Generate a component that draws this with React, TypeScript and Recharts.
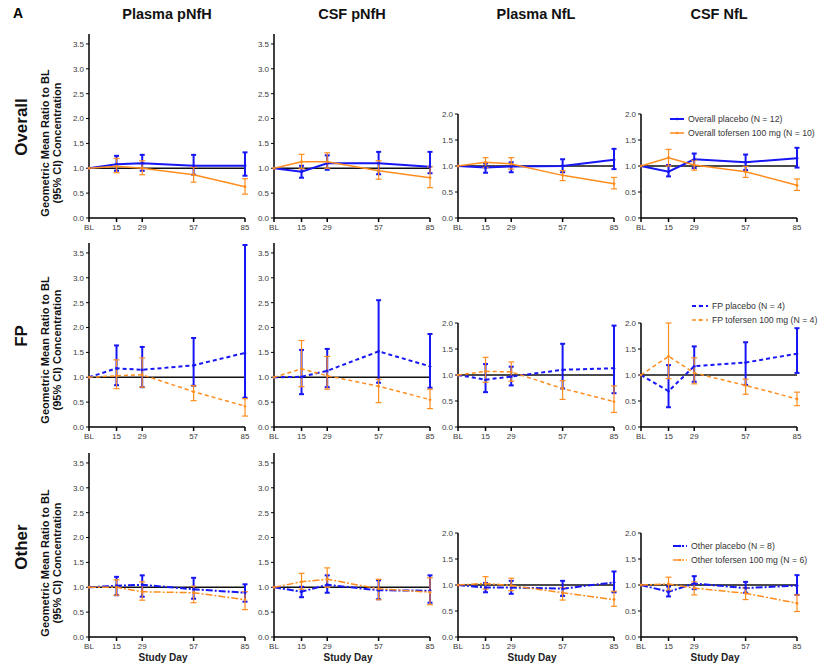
import React from 'react';
import { LineChart, Line, XAxis, YAxis, ReferenceLine, ErrorBar } from 'recharts';

const days = [0, 15, 29, 57, 85];
const groups = ['Overall', 'FP', 'Other'];
const markers = ['Plasma pNfH', 'CSF pNfH', 'Plasma NfL', 'CSF NfL'];

const legendPlacebo = ['Overall placebo (N = 12)', 'FP placebo (N = 4)', 'Other placebo (N = 8)'];
const legendTofersen = [
  'Overall tofersen 100 mg (N = 10)',
  'FP tofersen 100 mg (N = 4)',
  'Other tofersen 100 mg (N = 6)',
];

// rows: Plasma pNfH, CSF pNfH, Plasma NfL, CSF NfL ; columns: BL, 15, 29, 57, 85
const ovPlaMean = [[1, 1.08, 1.1, 1.05, 1.05], [1, 0.93, 1.1, 1.1, 1.03], [1, 0.97, 0.99, 1.0, 1.12], [1, 0.89, 1.13, 1.07, 1.15]];
const ovPlaLo = [[1, 0.95, 0.95, 0.87, 0.85], [1, 0.81, 0.97, 0.88, 0.9], [1, 0.87, 0.88, 0.88, 0.94], [1, 0.8, 0.96, 0.92, 0.97]];
const ovPlaHi = [[1, 1.25, 1.27, 1.27, 1.32], [1, 1.05, 1.26, 1.33, 1.33], [1, 1.05, 1.07, 1.13, 1.33], [1, 1.02, 1.24, 1.22, 1.35]];
const ovTofMean = [[1, 1.04, 1.0, 0.87, 0.63], [1, 1.13, 1.13, 0.95, 0.81], [1, 1.07, 1.04, 0.82, 0.66], [1, 1.16, 1.02, 0.89, 0.63]];
const ovTofLo = [[1, 0.91, 0.87, 0.72, 0.48], [1, 0.99, 1.0, 0.78, 0.61], [1, 0.97, 0.94, 0.72, 0.56], [1, 1.0, 0.92, 0.78, 0.53]];
const ovTofHi = [[1, 1.2, 1.15, 1.02, 0.79], [1, 1.28, 1.31, 1.15, 1.03], [1, 1.16, 1.16, 0.91, 0.78], [1, 1.32, 1.11, 0.99, 0.75]];

const fpPlaMean = [[1, 1.18, 1.15, 1.24, 1.49], [1, 1.01, 1.13, 1.52, 1.22], [1, 0.91, 0.97, 1.1, 1.13], [1, 0.69, 1.17, 1.24, 1.41]];
const fpPlaLo = [[1, 0.84, 0.8, 0.83, 0.59], [1, 0.66, 0.8, 0.89, 0.79], [1, 0.67, 0.8, 0.74, 0.65], [1, 0.38, 0.87, 0.81, 1.04]];
const fpPlaHi = [[1, 1.64, 1.61, 1.79, 3.66], [1, 1.55, 1.57, 2.55, 1.87], [1, 1.21, 1.16, 1.6, 1.95], [1, 1.19, 1.55, 1.63, 1.9]];
const fpTofMean = [[1, 1.03, 1.05, 0.71, 0.42], [1, 1.17, 1.03, 0.82, 0.55], [1, 1.07, 1.06, 0.74, 0.49], [1, 1.36, 1.04, 0.8, 0.54]];
const fpTofLo = [[1, 0.77, 0.8, 0.53, 0.22], [1, 0.81, 0.76, 0.49, 0.37], [1, 0.86, 0.88, 0.53, 0.28], [1, 0.93, 0.83, 0.63, 0.41]];
const fpTofHi = [[1, 1.35, 1.39, 0.83, 0.57], [1, 1.74, 1.42, 0.96, 0.76], [1, 1.34, 1.25, 0.89, 0.79], [1, 2.0, 1.33, 0.92, 0.67]];

const otPlaMean = [[1, 1.03, 1.05, 0.96, 0.89], [1, 0.91, 1.05, 0.94, 0.93], [1, 0.95, 0.95, 0.93, 1.05], [1, 0.87, 1.03, 0.94, 0.99]];
const otPlaLo = [[1, 0.84, 0.81, 0.77, 0.71], [1, 0.8, 0.89, 0.76, 0.69], [1, 0.86, 0.83, 0.79, 0.86], [1, 0.78, 0.92, 0.85, 0.81]];
const otPlaHi = [[1, 1.21, 1.24, 1.19, 1.06], [1, 1.01, 1.24, 1.14, 1.24], [1, 1.04, 1.08, 1.08, 1.26], [1, 0.97, 1.17, 1.06, 1.19]];
const otTofMean = [[1, 1.0, 0.91, 0.89, 0.75], [1, 1.11, 1.16, 0.97, 0.9], [1, 1.03, 0.99, 0.85, 0.72], [1, 1.02, 0.94, 0.84, 0.65]];
const otTofLo = [[1, 0.84, 0.74, 0.69, 0.55], [1, 0.96, 1.0, 0.75, 0.65], [1, 0.92, 0.89, 0.71, 0.59], [1, 0.9, 0.81, 0.72, 0.49]];
const otTofHi = [[1, 1.15, 1.11, 1.02, 0.91], [1, 1.28, 1.39, 1.16, 1.19], [1, 1.16, 1.13, 0.95, 0.88], [1, 1.15, 1.06, 0.94, 0.81]];

const pnfhTicks = [0, 0.5, 1, 1.5, 2, 2.5, 3, 3.5];
const nflTicks = [0, 0.5, 1, 1.5, 2];

const groupData = [
  { pm: ovPlaMean, pl: ovPlaLo, ph: ovPlaHi, tm: ovTofMean, tl: ovTofLo, th: ovTofHi },
  { pm: fpPlaMean, pl: fpPlaLo, ph: fpPlaHi, tm: fpTofMean, tl: fpTofLo, th: fpTofHi },
  { pm: otPlaMean, pl: otPlaLo, ph: otPlaHi, tm: otTofMean, tl: otTofLo, th: otTofHi },
];

const BLUE = '#1717f5';
const ORANGE = '#ff8d1e';
const FONT = '"Liberation Sans", Arial, sans-serif';

const colLeft = [89, 274, 458, 641];
const plotW = 156;
const rowBottom = [218, 427, 637];
const dashes = [undefined, '4 3', '7 2 2 2'];
const legendPos = [
  { x: 670, y: 119, len: 14 },
  { x: 692, y: 306, len: 16 },
  { x: 673, y: 546, len: 14 },
];

const err = (m: number, lo: number, hi: number) => (lo === hi ? null : [m - lo, hi - m]);

function buildRows(g: number, k: number) {
  const d = groupData[g];
  return days.map((day, i) => ({
    day,
    pb: d.pm[k][i],
    pbErr: err(d.pm[k][i], d.pl[k][i], d.ph[k][i]),
    tf: d.tm[k][i],
    tfErr: err(d.tm[k][i], d.tl[k][i], d.th[k][i]),
  }));
}

function Panel({ g, k }: { g: number; k: number }) {
  const isP = k < 2;
  const domMax = isP ? 3.7 : 2;
  const plotH = isP ? 184 : 104;
  const top = rowBottom[g] - plotH - 8;
  const left = colLeft[k] - 30;
  const data = buildRows(g, k);
  const tickStyle = { fontSize: 8, fill: '#3a3a3a', fontFamily: FONT };
  return (
    <div style={{ position: 'absolute', left, top }}>
      <LineChart width={plotW + 42} height={plotH + 30} data={data} margin={{ top: 8, right: 12, left: 2, bottom: 0 }}>
        <XAxis
          dataKey="day"
          type="number"
          domain={[0, 85]}
          ticks={days}
          tickFormatter={(v: number) => (v === 0 ? 'BL' : String(v))}
          height={22}
          tick={tickStyle}
          tickSize={4}
          axisLine={{ stroke: '#000', strokeWidth: 1.5 }}
          tickLine={{ stroke: '#000', strokeWidth: 1.5 }}
          interval={0}
        />
        <YAxis
          type="number"
          domain={[0, domMax]}
          ticks={isP ? pnfhTicks : nflTicks}
          tickFormatter={(v: number) => v.toFixed(1)}
          width={28}
          tick={tickStyle}
          tickSize={3}
          axisLine={{ stroke: '#000', strokeWidth: 1.5 }}
          tickLine={{ stroke: '#000' }}
          interval={0}
          allowDataOverflow
        />
        <ReferenceLine y={1} stroke="#111" strokeWidth={1.5} />
        <Line
          dataKey="pb"
          stroke={BLUE}
          strokeWidth={2}
          strokeDasharray={dashes[g]}
          dot={{ r: 1.2, fill: BLUE, stroke: BLUE, strokeWidth: 0.5 }}
          isAnimationActive={false}
        >
          <ErrorBar dataKey="pbErr" width={2.5} strokeWidth={2} stroke={BLUE} direction="y" isAnimationActive={false} />
        </Line>
        <Line
          dataKey="tf"
          stroke={ORANGE}
          strokeWidth={1.5}
          strokeDasharray={dashes[g]}
          dot={{ r: 1.2, fill: ORANGE, stroke: ORANGE, strokeWidth: 0.5 }}
          isAnimationActive={false}
        >
          <ErrorBar dataKey="tfErr" width={3} strokeWidth={1.2} stroke={ORANGE} direction="y" isAnimationActive={false} />
        </Line>
      </LineChart>
    </div>
  );
}

function Rotated({ x, y, size, bold = true, children }: { x: number; y: number; size: number; bold?: boolean; children: React.ReactNode }) {
  return (
    <div
      style={{
        position: 'absolute',
        left: x,
        top: y,
        transform: 'translate(-50%, -50%) rotate(-90deg)',
        whiteSpace: 'nowrap',
        fontSize: size,
        fontWeight: bold ? 700 : 400,
        color: '#111',
        lineHeight: 1.05,
        textAlign: 'center',
      }}
    >
      {children}
    </div>
  );
}

function LegendBox({ g }: { g: number }) {
  const p = legendPos[g];
  const items = [
    { label: legendPlacebo[g], color: BLUE, w: 2 },
    { label: legendTofersen[g], color: ORANGE, w: 1.5 },
  ];
  return (
    <>
      {items.map((it, i) => (
        <div key={i} style={{ position: 'absolute', left: p.x, top: p.y + i * 14 - 6, height: 12, display: 'flex', alignItems: 'center' }}>
          <svg width={p.len + 4} height={12}>
            <line x1={0} x2={p.len} y1={6} y2={6} stroke={it.color} strokeWidth={it.w} strokeDasharray={dashes[g]} />
            <circle cx={p.len / 2} cy={6} r={1.3} fill={it.color} />
          </svg>
          <span style={{ fontSize: 8.7, color: '#333', whiteSpace: 'nowrap' }}>{it.label}</span>
        </div>
      ))}
    </>
  );
}

export default function App() {
  const titleCenters = colLeft.map((x) => x + plotW / 2);
  const rowCenters = [127, 336, 547];
  const axisTitleCenters = [143, 350, 563];
  return (
    <div style={{ position: 'absolute', left: 0, top: 0, width: 820, height: 670, background: '#fff', fontFamily: FONT, overflow: 'hidden' }}>
      <div style={{ position: 'absolute', left: 13, top: 5, fontSize: 14, fontWeight: 700 }}>A</div>
      {markers.map((m, k) => (
        <div
          key={m}
          style={{ position: 'absolute', left: titleCenters[k], top: 6, transform: 'translateX(-50%)', fontSize: 14.5, fontWeight: 700, whiteSpace: 'nowrap', color: '#111' }}
        >
          {m}
        </div>
      ))}
      {groups.map((gName, g) => (
        <React.Fragment key={gName}>
          <Rotated x={22} y={rowCenters[g]} size={17}>
            {gName}
          </Rotated>
          <Rotated x={52} y={axisTitleCenters[g]} size={11}>
            Geometric Mean Ratio to BL
            <br />
            (95% CI) Concentration
          </Rotated>
          {markers.map((m, k) => (
            <Panel key={m} g={g} k={k} />
          ))}
          <LegendBox g={g} />
        </React.Fragment>
      ))}
      {titleCenters.map((x, k) => (
        <div key={k} style={{ position: 'absolute', left: x - 4, top: 652, transform: 'translateX(-50%)', fontSize: 10, fontWeight: 700, color: '#222' }}>
          Study Day
        </div>
      ))}
    </div>
  );
}
